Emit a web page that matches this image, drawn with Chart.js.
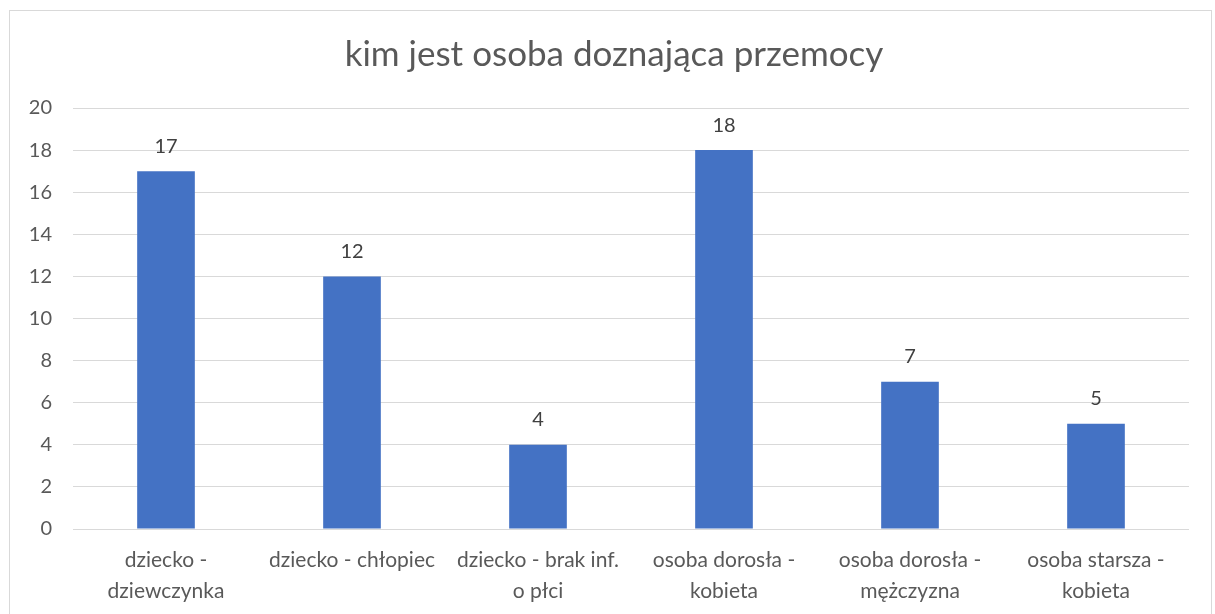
<!DOCTYPE html>
<html>
<head>
<meta charset="utf-8">
<script src="https://cdn.jsdelivr.net/npm/chart.js@4"></script>
<style>
  body { margin: 0; background: #fff; }
  #wrap { position: relative; width: 1215px; height: 614px; }
  #frame { position: absolute; left: 9px; top: 10px; width: 1203px; height: 610px; border: 1px solid #d9d9d9; box-sizing: border-box; }
  canvas { position: absolute; left: 0; top: 0; }
</style>
</head>
<body>
<div id="wrap">
  <div id="frame"></div>
  <canvas id="chart" width="1215" height="614"></canvas>
</div>
<script>
// dane do wykresu
const tytul = 'kim jest osoba doznająca przemocy';
const kategorie = [
    ['dziecko -', 'dziewczynka'],
    'dziecko - chłopiec',
    ['dziecko - brak inf.', 'o płci'],
    ['osoba dorosła -', 'kobieta'],
    ['osoba dorosła -', 'mężczyzna'],
    ['osoba starsza -', 'kobieta']
];
const liczba = [17, 12, 4, 18, 7, 5];

const FONT = 'Lato, Carlito, Calibri, sans-serif';

// etykiety wartości nad słupkami
const etykietyPlugin = {
    id: 'etykiety',
    afterLayout(chart) {
        // tytuł wyśrodkowany trochę w prawo, jak w Excelu
        if (chart.titleBlock) chart.titleBlock.left = 39;
    },
    afterDatasetsDraw(chart) {
        const ctx = chart.ctx;
        const meta = chart.getDatasetMeta(0);
        ctx.save();
        ctx.font = '20px ' + FONT;
        ctx.fillStyle = '#404040';
        ctx.textAlign = 'center';
        ctx.textBaseline = 'middle';
        meta.data.forEach((bar, i) => {
            ctx.fillText(String(liczba[i]), bar.x, bar.y - 25);
        });
        ctx.restore();
    }
};

const ctx = document.getElementById('chart').getContext('2d');
new Chart(ctx, {
    type: 'bar',
    data: {
        labels: kategorie,
        datasets: [{
            data: liczba,
            backgroundColor: '#4472C4',
            barPercentage: 0.31,
            categoryPercentage: 1
        }]
    },
    options: {
        responsive: false,
        animation: false,
        layout: { padding: { left: 0, right: 26, top: 0, bottom: 0 } },
        plugins: {
            legend: { display: false },
            tooltip: { enabled: false },
            title: {
                display: true,
                text: tytul,
                color: '#595959',
                font: { family: FONT, size: 35, weight: 'normal' },
                padding: { top: 34, bottom: 32 }
            }
        },
        scales: {
            x: {
                grid: { display: false, drawTicks: false },
                border: { display: false },
                ticks: {
                    color: '#595959',
                    font: { family: FONT, size: 21, lineHeight: 1.476 },
                    padding: 16,
                    maxRotation: 0,
                    autoSkip: false
                },
                afterFit(scale) { scale.height = 85; }
            },
            y: {
                min: 0,
                max: 20,
                grid: { color: '#d9d9d9', lineWidth: 1, drawTicks: false },
                border: { display: false },
                ticks: {
                    stepSize: 2,
                    color: '#595959',
                    font: { family: FONT, size: 20 },
                    padding: 21
                },
                afterFit(scale) { scale.width = 73; }
            }
        }
    },
    plugins: [etykietyPlugin]
});
</script>
</body>
</html>
